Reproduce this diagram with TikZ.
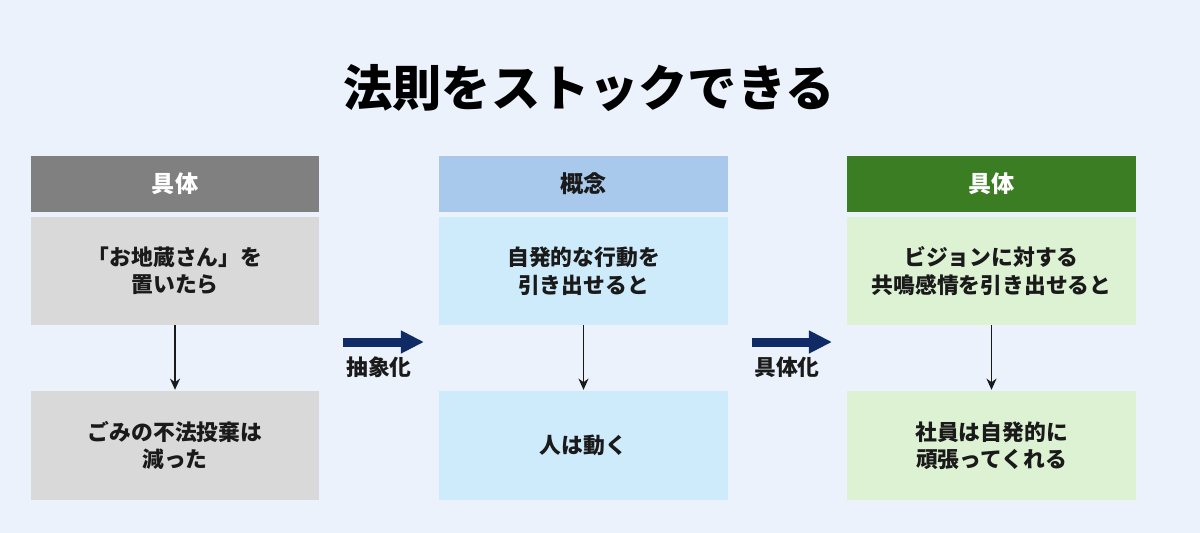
\documentclass[tikz,border=0pt]{standalone}
\usepackage{fontspec}
\newfontfamily\jpfont{Noto Sans CJK JP}
\definecolor{PageBg}{HTML}{EBF2FB}
\definecolor{InkBlack}{HTML}{1A1A1A}
\definecolor{GrayHead}{HTML}{808080}
\definecolor{GrayCard}{HTML}{D9D9D9}
\definecolor{BlueHead}{HTML}{A8C8EC}
\definecolor{BlueCard}{HTML}{CDEBFA}
\definecolor{GreenHead}{HTML}{3A7D22}
\definecolor{GreenCard}{HTML}{DDF1D3}
\definecolor{NavyArrow}{HTML}{102A66}
\usetikzlibrary{arrows.meta, positioning}

\begin{document}
\begin{tikzpicture}[x=0.025cm, y=-0.025cm,
    colhead/.style={minimum width=7.2cm, minimum height=1.4cm, inner sep=0pt,
        text=white, font=\jpfont\bfseries\fontsize{16.5}{20}\selectfont},
    card/.style={minimum width=7.2cm, minimum height=2.7cm, inner sep=0pt,
        align=center, text=InkBlack, font=\jpfont\bfseries\fontsize{15.5}{19.5}\selectfont},
    flow/.style={-{Stealth[length=2.8mm, width=2.5mm]}, line width=1.2pt, InkBlack, shorten >=1pt},
    bigarrow/.style={NavyArrow, line width=6.4pt, -{Triangle[length=5.8mm, width=5.4mm]}},
    steplabel/.style={text=InkBlack, font=\jpfont\bfseries\fontsize{15.5}{19}\selectfont}]

    % Background
    \useasboundingbox (0,0) rectangle (1200,532);
    \fill[PageBg] (-10,-10) rectangle (1210,542);

    % Title
    \node[text=black, font=\jpfont\bfseries\fontsize{35}{40}\selectfont] (title) at (589,88) {法則をストックできる};

    % Left column
    \node[colhead, fill=GrayHead] (leftHead) at (175,184) {具体};
    \node[card, fill=GrayCard] (leftTop) at (175,271) {「お地蔵さん」を\\置いたら};
    \node[card, fill=GrayCard] (leftBot) at (175,445.5) {ごみの不法投棄は\\減った};
    \draw[flow] (leftTop) -- (leftBot);

    % Middle column
    \node[colhead, fill=BlueHead, text=InkBlack] (midHead) at (583.5,184) {概念};
    \node[card, fill=BlueCard] (midTop) at (583.5,271) {自発的な行動を\\引き出せると};
    \node[card, fill=BlueCard] (midBot) at (583.5,445.5) {人は動く};
    \draw[flow] (midTop) -- (midBot);

    % Right column
    \node[colhead, fill=GreenHead] (rightHead) at (991.5,184) {具体};
    \node[card, fill=GreenCard] (rightTop) at (991.5,271) {ビジョンに対する\\共鳴感情を引き出せると};
    \node[card, fill=GreenCard] (rightBot) at (991.5,445.5) {社員は自発的に\\頑張ってくれる};
    \draw[flow] (rightTop) -- (rightBot);

    % Abstraction / concretisation arrows
    \coordinate (absFrom) at (343,342);
    \coordinate (absTo) at (424,342);
    \draw[bigarrow] (absFrom) -- (absTo);
    \node[steplabel] (absLabel) at (379,367) {抽象化};

    \coordinate (conFrom) at (752,342);
    \coordinate (conTo) at (832,342);
    \draw[bigarrow] (conFrom) -- (conTo);
    \node[steplabel] (conLabel) at (787,367) {具体化};
\end{tikzpicture}
\end{document}
